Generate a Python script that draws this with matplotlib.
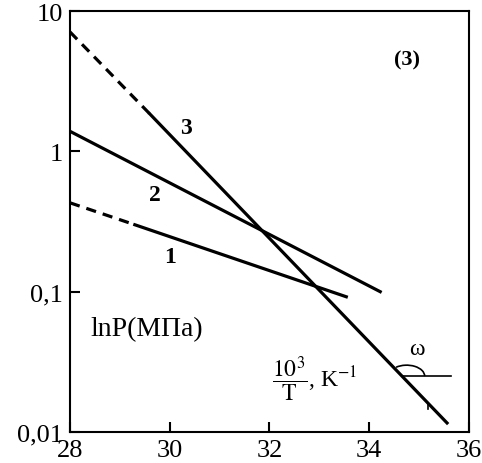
import numpy as np
import matplotlib
matplotlib.use("Agg")
import matplotlib.pyplot as plt
from matplotlib.patches import Arc
from matplotlib.transforms import Affine2D, IdentityTransform

plt.rcParams['font.family'] = ['Liberation Serif', 'DejaVu Serif']
plt.rcParams['mathtext.fontset'] = 'stix'

# line 3: dashed (extrapolated) part, then solid part
line3_dash_x = [28.0, 29.6]
line3_dash_y = [7.1, 1.85]
line3_x = [29.6, 35.56]
line3_y = [1.85, 0.0116]

# line 2: solid over whole range
line2_x = [28.0, 34.22]
line2_y = [1.39, 0.10]

# line 1: dashed then solid
line1_dash_x = [28.0, 29.3]
line1_dash_y = [0.43, 0.30]
line1_x = [29.3, 33.54]
line1_y = [0.30, 0.092]

x_ticks = [28, 30, 32, 34, 36]
y_ticks = [0.01, 0.1, 1, 10]
y_ticklabels = ['0,01', '0,1', '1', '10']

# omega angle marker
omega_x = 34.65
omega_y = 0.025
omega_x_end = 35.64

fig = plt.figure(figsize=(4.82, 4.64), dpi=100)
ax = fig.add_axes([0.1452, 0.0668, 0.973 - 0.1452, 0.974 - 0.0668])

lw = 2.3
ax.plot(line3_dash_x, line3_dash_y, 'k--', lw=lw, dashes=(3.2, 2.2))
ax.plot(line3_x, line3_y, 'k-', lw=lw)
ax.plot(line2_x, line2_y, 'k-', lw=lw)
ax.plot(line1_dash_x, line1_dash_y, 'k--', lw=lw, dashes=(3.2, 2.2))
ax.plot(line1_x, line1_y, 'k-', lw=lw)

ax.set_yscale('log')
ax.set_xlim(28, 36)
ax.set_ylim(0.01, 10)
ax.set_xticks(x_ticks)
ax.set_xticklabels([str(t) for t in x_ticks])
ax.set_yticks(y_ticks)
ax.set_yticklabels(y_ticklabels)
ax.yaxis.set_minor_locator(matplotlib.ticker.NullLocator())
ax.tick_params(direction='in', length=7, width=1.5, labelsize=19)
ax.tick_params(axis='y', pad=5)
ax.tick_params(axis='x', pad=5)
for s in ax.spines.values():
    s.set_linewidth(1.5)

# omega marker: horizontal line + arc
ax.plot([omega_x, omega_x_end], [omega_y, omega_y], 'k-', lw=1.2)
fig.canvas.draw()
cx, cy = ax.transData.transform((omega_x, omega_y))
arc = Arc((0, 0), 36, 22, theta1=0, theta2=140, lw=1.2, color='k',
          transform=IdentityTransform() + Affine2D().translate(cx + 5, cy))
ax.add_patch(arc)
ax.text(34.96, 0.0395, 'ω', fontsize=17, ha='center', va='center')

# small tick mark on line 3
ax.plot([35.18, 35.18], [0.016, 0.0145], 'k-', lw=1.2)

# labels
ax.text(30.32, 1.48, '3', fontsize=17, fontweight='bold', ha='center', va='center')
ax.text(29.7, 0.493, '2', fontsize=17, fontweight='bold', ha='center', va='center')
ax.text(30.0, 0.178, '1', fontsize=17, fontweight='bold', ha='center', va='center')
ax.text(34.76, 4.54, '(3)', fontsize=16, fontweight='bold', ha='center', va='center')
ax.text(29.54, 0.0544, 'lnP(МПа)', fontsize=20, ha='center', va='center')
ax.text(32.9, 0.0243, r'$\dfrac{10^3}{\mathrm{T}}$, K$^{-1}$', fontsize=17,
        ha='center', va='center')

fig.savefig('out.png', dpi=100)
